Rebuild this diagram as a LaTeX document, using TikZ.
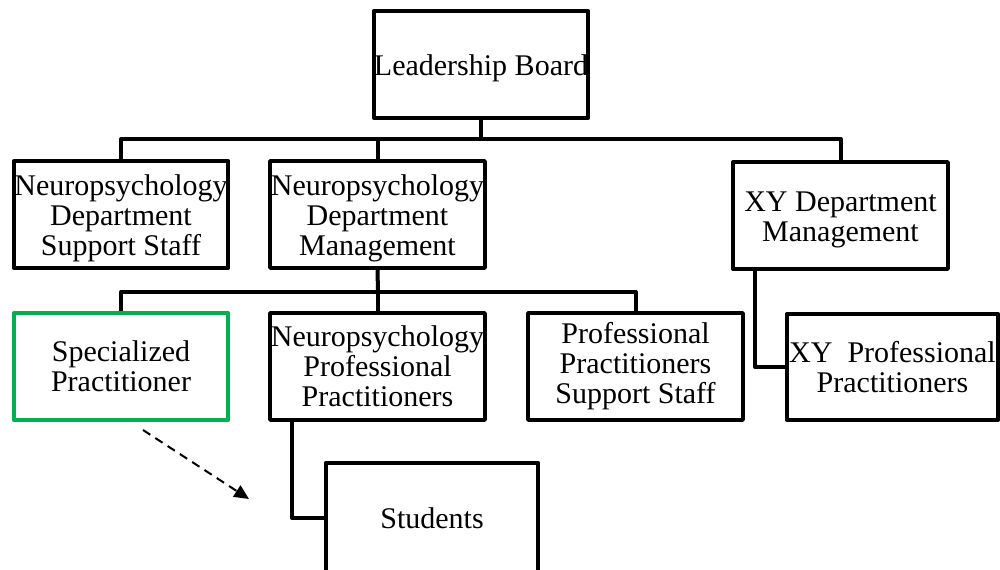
\documentclass[tikz,border=0pt]{standalone}
\usepackage{fontspec}
\setmainfont{Liberation Serif}
\usetikzlibrary{arrows.meta}
\definecolor{boxgreen}{RGB}{0,176,80}
\newcommand{\padtop}{\rule{0pt}{22pt}}

\begin{document}
\begin{tikzpicture}[x=0.75pt,y=0.75pt,yscale=-1,xscale=1,
	unit/.style={draw=black, line width=3pt, line join=round, fill=white, inner sep=0pt,
		minimum width=161pt, minimum height=80pt, align=center,
		font=\fontsize{22.5}{22.5}\selectfont},
	link/.style={draw=black, line width=3pt, line join=round},
	hint/.style={draw=black, line width=1.5pt, dash pattern=on 6.5pt off 4.5pt,
		-{Triangle[length=11pt,width=10pt]}}]
	\useasboundingbox (0,0) rectangle (1000,570);
	\clip (0,0) rectangle (1000,570);
	% bus points
	\coordinate (busA) at (481,139);
	\coordinate (busB) at (378,292);
	\coordinate (tail) at (143,430);
	\coordinate (head) at (249,499);
	% top
	\node [unit] (lead) at (481,64.5) {\padtop Leadership Board};
	% second row
	\node [unit] (nss) at (121,214.5) {\padtop Neuropsychology\\Department\\Support Staff};
	\node [unit] (ndm) at (377.5,214.5) {\padtop Neuropsychology\\Department\\Management};
	\node [unit] (xym) at (840.5,215.5) {\padtop XY Department\\Management};
	% third row
	\node [unit, draw=boxgreen] (spec) at (121,366.5) {Specialized\\Practitioner};
	\node [unit] (npp) at (377.5,366.5) {Neuropsychology\\Professional\\Practitioners};
	\node [unit] (ppss) at (635.5,366.5) {Professional\\Practitioners\\Support Staff};
	\node [unit, minimum width=158pt] (xyp) at (892.5,367) {XY\ \ Professional\\Practitioners};
	\node [unit, minimum width=159pt, minimum height=83pt] (stud) at (432,518) {Students};
	% connectors
	\draw [link] (lead.south) -- (busA);
	\draw [link] (nss.north) |- (busA);
	\draw [link] (xym.north) |- (busA);
	\draw [link] (ndm.north) -- (ndm.north |- busA);
	\draw [link] (ndm.south) -- (busB);
	\draw [link] (spec.north) |- (busB);
	\draw [link] (ppss.north) |- (busB);
	\draw [link] (npp.north) -- (npp.north |- busB);
	\draw [link] (xym.south west) ++(24,0) |- (xyp.west);
	\draw [link] (npp.south west) ++(24,0) |- (stud.west);
	\draw [hint] (tail) -- (head);
\end{tikzpicture}
\end{document}
